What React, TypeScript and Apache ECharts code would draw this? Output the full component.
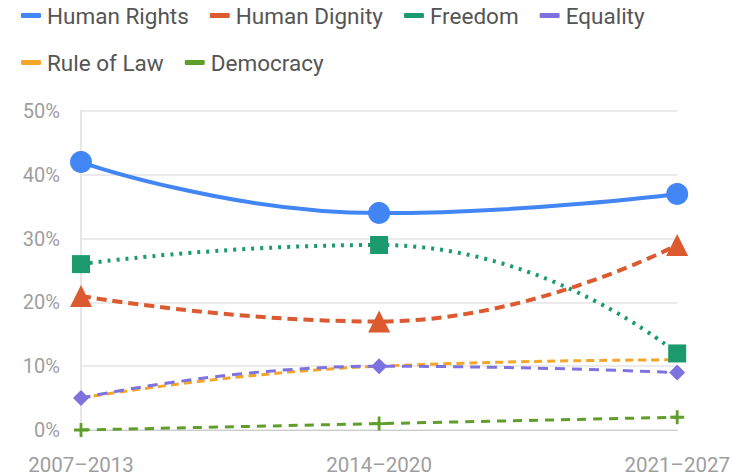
import React, { useEffect, useRef } from "react";
import * as echarts from "echarts";

const categories = ["2007–2013", "2014–2020", "2021–2027"];
const humanRights = [42, 34, 37];
const humanDignity = [21, 17, 29];
const freedom = [26, 29, 12];
const equality = [5, 10, 9];
const ruleOfLaw = [5, 10, 11];
const democracy = [0, 1, 2];
const yTicks = [0, 10, 20, 30, 40, 50];

const PLUS = "path://M4,0 H6 V4 H10 V6 H6 V10 H4 V6 H0 V4 H4 Z";

export default function App() {
  const ref = useRef<HTMLDivElement>(null);
  useEffect(() => {
    if (!ref.current) return;
    const chart = echarts.init(ref.current, undefined, { renderer: "svg" });
    const font = "Roboto, 'Noto Sans', sans-serif";
    const mk = (name: string, data: number[], color: string, lineType: any, symbol: string, symbolSize: number, smooth: number | boolean, width = 4, showSymbol = true) => ({
      name,
      type: "line",
      data,
      smooth,
      symbol,
      symbolSize,
      showSymbol,
      lineStyle: { color, width, type: lineType, cap: "butt" },
      itemStyle: { color },
      emphasis: { disabled: true },
    });
    const legendBase = {
      left: 16,
      itemWidth: 20,
      itemHeight: 5,
      itemGap: 21,
      icon: "roundRect",
      formatter: (name: string) => "{s|}" + name,
      textStyle: {
        fontFamily: font,
        fontSize: 22.5,
        color: "#555",
        rich: { s: { width: 1 } },
      },
    };
    chart.setOption({
      animation: false,
      legend: [
        { ...legendBase, top: -1, data: ["Human Rights", "Human Dignity", "Freedom", "Equality"] },
        { ...legendBase, top: 46, data: ["Rule of Law", "Democracy"] },
      ],
      grid: { left: 81, right: 53, top: 111, bottom: 46, containLabel: false },
      xAxis: {
        type: "category",
        data: categories,
        boundaryGap: false,
        axisLine: { lineStyle: { color: "#cccccc", width: 1 } },
        axisTick: { show: false },
        axisLabel: {
          fontFamily: font,
          fontSize: 20.5,
          color: "#9e9e9e",
          margin: 24,
          interval: 0,
        },
        splitLine: { show: false },
      },
      yAxis: {
        type: "value",
        min: yTicks[0],
        max: yTicks[yTicks.length - 1],
        interval: 10,
        axisLine: { show: true, lineStyle: { color: "#e6e6e6", width: 2 } },
        axisTick: { show: false },
        axisLabel: {
          fontFamily: font,
          fontSize: 20,
          color: "#9e9e9e",
          margin: 21,
          formatter: (v: number) => v + "%",
        },
        splitLine: { lineStyle: { color: "#ebebeb", width: 2 } },
      },
      series: [
        mk("Human Rights", humanRights, "#4285f4", "solid", "circle", 22, 0.5, 4),
        mk("Human Dignity", humanDignity, "#db5a30", [10, 6], "triangle", 22, 0.5, 4),
        mk("Freedom", freedom, "#1b9a6e", [3, 6], "rect", 18, 0.55, 4),
        mk("Equality", equality, "#7e72df", [10, 7], "diamond", 16, 0.5, 3),
        mk("Rule of Law", ruleOfLaw, "#f4a62a", [8, 5], "circle", 0, 0.5, 3, false),
        mk("Democracy", democracy, "#5f9e2a", [9, 7], PLUS, 14, 0.5, 3),
      ].map((s, i) => ({ ...s, z: 10 - i })),
    });
    return () => chart.dispose();
  }, []);
  return <div ref={ref} style={{ position: "absolute", left: 0, top: 0, width: 733, height: 476 }} />;
}
